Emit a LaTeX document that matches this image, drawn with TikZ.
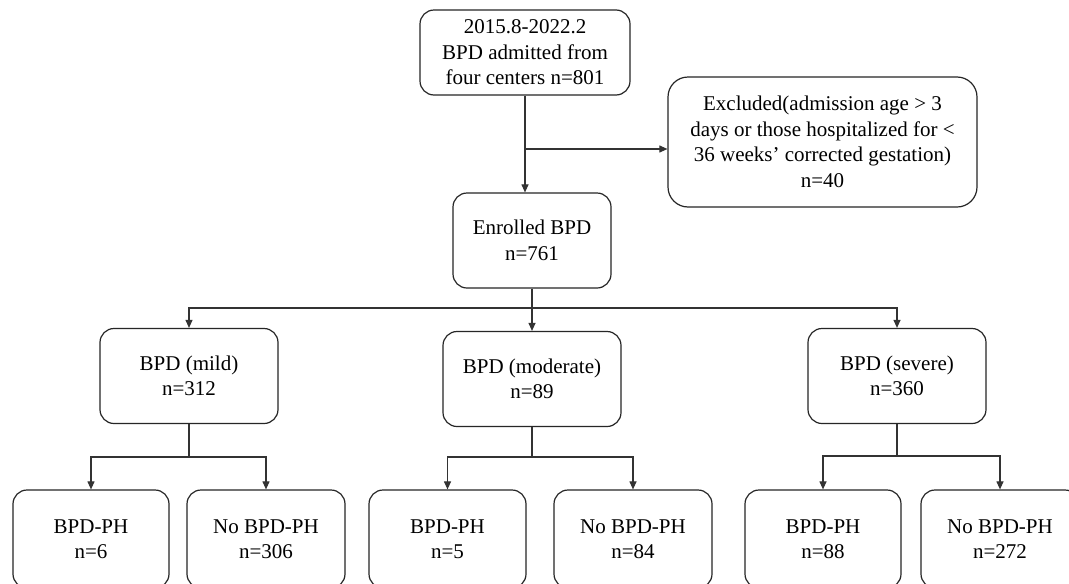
\documentclass[tikz,border=0pt]{standalone}
\usepackage{fontspec}
\setmainfont{Liberation Serif}
\usetikzlibrary{arrows.meta}
\begin{document}
\begin{tikzpicture}[x=1pt,y=-1pt,
  box/.style={draw=black!85,line width=1.2pt,rounded corners=14pt,inner sep=0pt,align=center,
    font=\fontsize{21}{25.5}\selectfont},
  conn/.style={draw=black!80,line width=1.1pt},
  arr/.style={conn,-{Triangle[length=8pt,width=7pt]}}]
\useasboundingbox (0,0) rectangle (1069,584);
\clip (0,0) rectangle (1069,584);
\fill[white] (0,0) rectangle (1069,584);
% nodes
\node[box,minimum width=210,minimum height=85] (top) at (525,52.5) {2015.8-2022.2\\BPD admitted from\\four centers n=801};
\node[box,minimum width=309,minimum height=130,rounded corners=20pt] (excl) at (822.5,142) {Excluded(admission age {\char`\>} 3\\days or those hospitalized for {\char`\<}\\36 weeks’ corrected gestation)\\n=40};
\node[box,minimum width=158,minimum height=95] (enr) at (532,240.5) {Enrolled BPD\\n=761};
\node[box,minimum width=178,minimum height=95] (mild) at (189,376) {BPD (mild)\\n=312};
\node[box,minimum width=178,minimum height=95] (mod) at (532,379) {BPD (moderate)\\n=89};
\node[box,minimum width=178,minimum height=95] (sev) at (897,376) {BPD (severe)\\n=360};
\node[box,minimum width=156,minimum height=98] (m1) at (91,539) {BPD-PH\\n=6};
\node[box,minimum width=158,minimum height=98] (m2) at (266,539) {No BPD-PH\\n=306};
\node[box,minimum width=157,minimum height=98] (d1) at (447.5,539) {BPD-PH\\n=5};
\node[box,minimum width=158,minimum height=98] (d2) at (633,539) {No BPD-PH\\n=84};
\node[box,minimum width=156,minimum height=98] (s1) at (823,539) {BPD-PH\\n=88};
\node[box,minimum width=158,minimum height=98] (s2) at (1000,539) {No BPD-PH\\n=272};
% connectors
\draw[arr] (top.south) -- (top.south |- enr.north);
\coordinate (br) at (525,149);
\draw[arr] (br) -- (br -| excl.west);
\coordinate (lv) at (532,308);
\draw[arr] (enr.south) -- (mod.north);
\draw[arr] (lv) -| (mild.north);
\draw[arr] (lv) -| (sev.north);
\coordinate (ms) at (189,457);
\coordinate (ds) at (532,457);
\coordinate (ss) at (897,456);
\draw[conn] (mild.south) -- (ms);
\draw[conn] (mod.south) -- (ds);
\draw[conn] (sev.south) -- (ss);
\draw[arr] (ms) -| (m1.north);
\draw[arr] (ms) -| (m2.north);
\draw[arr] (ds) -| (d1.north);
\draw[arr] (ds) -| (d2.north);
\draw[arr] (ss) -| (s1.north);
\draw[arr] (ss) -| (s2.north);
\end{tikzpicture}
\end{document}
